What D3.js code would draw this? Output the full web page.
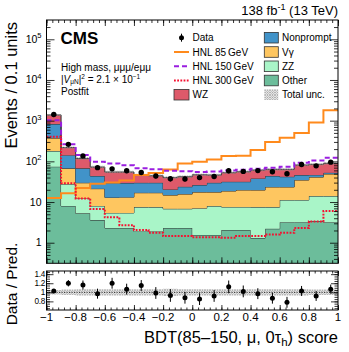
<!DOCTYPE html>
<html>
<head>
<meta charset="utf-8">
<title>BDT score, high mass</title>
<script src="https://cdn.jsdelivr.net/npm/d3@7"></script>
<style>
  body { margin: 0; background: #fff; }
  svg text { font-family: "Liberation Sans", Arial, Helvetica, sans-serif; fill: #000; }
</style>
</head>
<body>
<svg id="chart" width="349" height="352"></svg>
<script>
// bins: lower edges of the 20 BDT score bins (width 0.1)
var binLo = [-1.0, -0.9, -0.8, -0.7, -0.6, -0.5, -0.4, -0.3, -0.2, -0.1, 0.0, 0.1, 0.2, 0.3, 0.4, 0.5, 0.6, 0.7, 0.8, 0.9];
var binWidth = 0.1;

// stacked backgrounds (events per bin)
var other     = [73.8, 8.0, 5.3, 3.6, 2.3, 2.3, 1.9, 1.9, 2.3, 2.3, 1.55, 1.55, 2.05, 2.05, 1.3, 2.2, 3.2, 3.2, 3.4, 3.2];
var zz        = [105, 19.7, 7.0, 4.4, 3.1, 3.1, 5.6, 5.6, 4.5, 4.5, 5.5, 6.4, 5.5, 5.5, 6.2, 5.3, 8.0, 8.0, 10.6, 10.8];
var vgamma    = [194, 39.5, 17.4, 13.3, 7.6, 7.8, 9.4, 9.4, 8.0, 8.9, 10.5, 9.6, 11.1, 12.2, 12.2, 15.9, 12.2, 23.5, 27, 34.8];
var nonprompt = [451, 75, 37.5, 22.3, 16.7, 16.1, 12.8, 12.8, 5.6, 8.0, 8.6, 12.1, 12.9, 11.8, 18.4, 20.2, 18.5, 11.3, 5.5, 3.7];
var wz        = [556, 76, 50, 28.8, 24.9, 25.3, 16.4, 14.6, 19.5, 18.2, 20.7, 16.4, 21, 24, 22.9, 20, 21.7, 35, 37.9, 36.8];
var totUnc    = [0.05, 0.06, 0.07, 0.07, 0.07, 0.07, 0.07, 0.07, 0.08, 0.07, 0.07, 0.07, 0.07, 0.07, 0.07, 0.07, 0.07, 0.07, 0.06, 0.06];

// signals
var hnl85  = [12.5, 16.5, 22, 28, 30, 34, 46, 52, 63, 89, 98, 111, 135, 138, 190, 300, 380, 500, 900, 1800];
var hnl150 = [1025, 262, 143, 98, 89, 80, 68, 64, 59, 57, 55, 56, 60, 62, 66, 70, 74, 92, 105, 122];
var hnl300 = [400, 28.8, 12.3, 6.7, 4.2, 2.7, 2.05, 1.76, 1.46, 1.46, 1.36, 1.36, 1.33, 1.46, 1.46, 1.6, 1.75, 2.3, 3.3, 6.0];

// observed
var data     = [1420, 262, 136, 70, 65.5, 58.5, 53, 43.6, 37.2, 36.9, 39.9, 42.4, 58.8, 56.6, 59.2, 55.3, 49.6, 83.4, 77.6, 95.5];
var ratio    = [1.03, 1.2, 1.16, 0.97, 1.2, 1.07, 1.15, 0.985, 0.93, 0.88, 0.85, 0.92, 1.12, 1.02, 0.97, 0.87, 0.78, 1.03, 0.92, 1.07];
var ratioErr = [0.03, 0.07, 0.10, 0.11, 0.12, 0.12, 0.12, 0.13, 0.14, 0.13, 0.13, 0.13, 0.14, 0.13, 0.12, 0.12, 0.12, 0.11, 0.11, 0.10];

// axis ticks
var xTickVals = [-1, -0.8, -0.6, -0.4, -0.2, 0, 0.2, 0.4, 0.6, 0.8, 1];
var yTickVals = [1, 10, 100, 1000, 10000, 100000];
var rTickVals = [0.8, 1, 1.2, 1.4];

var keys = ["other", "zz", "vgamma", "nonprompt", "wz"];
var colors = {other: "#6cbd9b", zz: "#a9f5c8", vgamma: "#fec660", nonprompt: "#4193c9", wz: "#de5a6a"};

var frame = {left: 46.5, right: 338, top: 20, mainBottom: 263.3, ratioTop: 271, ratioBottom: 310};
var yMin = 0.312, yMax = 2.98e5;

var svg = d3.select("#chart");

var x = d3.scaleLinear().domain([-1, 1]).range([frame.left, frame.right]);
var y = d3.scaleLog().domain([yMin, yMax]).range([frame.mainBottom, frame.top]);
var yr = d3.scaleLinear().domain([0.61, 1.47]).range([frame.ratioBottom, frame.ratioTop]);

var defs = svg.append("defs");
var hatch = defs.append("pattern").attr("id", "hatch").attr("patternUnits", "userSpaceOnUse")
    .attr("width", 2.5).attr("height", 2.5);
hatch.append("path").attr("d", "M0,0L2.5,2.5M2.5,0L0,2.5").attr("stroke", "#8a8a8a").attr("stroke-width", 0.6);

defs.append("clipPath").attr("id", "clipMain").append("rect")
    .attr("x", frame.left).attr("y", frame.top)
    .attr("width", frame.right - frame.left).attr("height", frame.mainBottom - frame.top);
defs.append("clipPath").attr("id", "clipRatio").append("rect")
    .attr("x", frame.left).attr("y", frame.ratioTop)
    .attr("width", frame.right - frame.left).attr("height", frame.ratioBottom - frame.ratioTop);

function steps(vals) {
  var pts = binLo.map(function(b, i) { return {x: b, v: vals[i]}; });
  pts.push({x: binLo[binLo.length - 1] + binWidth, v: vals[vals.length - 1]});
  return pts;
}

// ---- main panel ----
var gMain = svg.append("g").attr("clip-path", "url(#clipMain)");

var rows = binLo.map(function(b, i) {
  return {other: other[i], zz: zz[i], vgamma: vgamma[i], nonprompt: nonprompt[i], wz: wz[i]};
});
var layers = d3.stack().keys(keys)(rows);

var area = d3.area().curve(d3.curveStepAfter)
    .x(function(d) { return x(d.x); })
    .y0(function(d) { return y(Math.max(d.y0, yMin)); })
    .y1(function(d) { return y(d.y1); });
var topLine = d3.line().curve(d3.curveStepAfter)
    .x(function(d) { return x(d.x); })
    .y(function(d) { return y(d.y1); });

layers.forEach(function(layer) {
  var pts = layer.map(function(d, i) { return {x: binLo[i], y0: d[0], y1: d[1]}; });
  var last = pts[pts.length - 1];
  pts.push({x: last.x + binWidth, y0: last.y0, y1: last.y1});
  gMain.append("path").datum(pts).attr("fill", colors[layer.key]).attr("d", area);
  gMain.append("path").datum(pts).attr("fill", "none").attr("stroke", "#333")
      .attr("stroke-width", 1).attr("d", topLine);
});

var total = layers[layers.length - 1].map(function(d) { return d[1]; });
var uncPts = binLo.map(function(b, i) {
  return {x: b, y0: total[i] * (1 - totUnc[i]), y1: total[i] * (1 + totUnc[i])};
});
uncPts.push({x: 1, y0: uncPts[19].y0, y1: uncPts[19].y1});
gMain.append("path").datum(uncPts).attr("fill", "url(#hatch)").attr("d", area);

var sigLine = d3.line().curve(d3.curveStepAfter)
    .x(function(d) { return x(d.x); })
    .y(function(d) { return y(d.v); });

var signals = [
  {name: "HNL 85\u2009GeV", vals: hnl85, color: "#ff8a1c", dash: null},
  {name: "HNL 150\u2009GeV", vals: hnl150, color: "#9a1ee0", dash: "5,3"},
  {name: "HNL 300\u2009GeV", vals: hnl300, color: "#f51030", dash: "1.8,1.4"}
];
signals.forEach(function(s) {
  gMain.append("path").datum(steps(s.vals)).attr("fill", "none")
      .attr("stroke", s.color).attr("stroke-width", 2)
      .attr("stroke-dasharray", s.dash).attr("d", sigLine);
});

var pts = gMain.selectAll(".dpt").data(data).enter().append("g");
pts.append("line")
    .attr("x1", function(d, i) { return x(binLo[i] + binWidth / 2); })
    .attr("x2", function(d, i) { return x(binLo[i] + binWidth / 2); })
    .attr("y1", function(d, i) { return y(d * (1 - ratioErr[i])); })
    .attr("y2", function(d, i) { return y(d * (1 + ratioErr[i])); })
    .attr("stroke", "#000").attr("stroke-width", 1);
pts.append("circle")
    .attr("cx", function(d, i) { return x(binLo[i] + binWidth / 2); })
    .attr("cy", function(d) { return y(d); })
    .attr("r", 2.7).attr("fill", "#000");

// ---- ratio panel ----
var gRatio = svg.append("g").attr("clip-path", "url(#clipRatio)");
var rArea = d3.area().curve(d3.curveStepAfter)
    .x(function(d) { return x(d.x); })
    .y0(function(d) { return yr(1 - d.u); })
    .y1(function(d) { return yr(1 + d.u); });
var rBand = binLo.map(function(b, i) { return {x: b, u: totUnc[i]}; });
rBand.push({x: 1, u: totUnc[19]});
gRatio.append("path").datum(rBand).attr("fill", "url(#hatch)").attr("d", rArea);
gRatio.append("line").attr("x1", x(-1)).attr("x2", x(1)).attr("y1", yr(1)).attr("y2", yr(1))
    .attr("stroke", "#000").attr("stroke-width", 0.8).attr("stroke-dasharray", "1,1.5");

var rp = gRatio.selectAll(".rpt").data(ratio).enter().append("g");
rp.append("line")
    .attr("x1", function(d, i) { return x(binLo[i] + binWidth / 2); })
    .attr("x2", function(d, i) { return x(binLo[i] + binWidth / 2); })
    .attr("y1", function(d, i) { return yr(d - ratioErr[i]); })
    .attr("y2", function(d, i) { return yr(d + ratioErr[i]); })
    .attr("stroke", "#000").attr("stroke-width", 1);
rp.append("circle")
    .attr("cx", function(d, i) { return x(binLo[i] + binWidth / 2); })
    .attr("cy", function(d) { return yr(d); })
    .attr("r", 2.5).attr("fill", "#000");

// ---- frames and ticks ----
function ticks(axis, tx, ty) {
  var g = svg.append("g").attr("transform", "translate(" + tx + "," + ty + ")").call(axis);
  g.select(".domain").remove();
  g.selectAll("line").attr("stroke", "#000").attr("stroke-width", 0.8);
  g.selectAll("text").remove();
}
var xMinor = d3.range(-1, 1.0001, 0.04);
var yMinor = y.ticks().filter(function(v) { return yTickVals.indexOf(v) < 0; });
var rMinor = d3.range(0.65, 1.46, 0.05);

[[frame.top, frame.mainBottom, 6, 3], [frame.ratioTop, frame.ratioBottom, 5, 2.5]].forEach(function(p) {
  ticks(d3.axisBottom(x).tickValues(xTickVals).tickSize(-p[2]).tickFormat(""), 0, p[1]);
  ticks(d3.axisBottom(x).tickValues(xMinor).tickSize(-p[3]).tickFormat(""), 0, p[1]);
  ticks(d3.axisTop(x).tickValues(xTickVals).tickSize(-p[2]).tickFormat(""), 0, p[0]);
  ticks(d3.axisTop(x).tickValues(xMinor).tickSize(-p[3]).tickFormat(""), 0, p[0]);
});
ticks(d3.axisLeft(y).tickValues(yTickVals).tickSize(-8).tickFormat(""), frame.left, 0);
ticks(d3.axisLeft(y).tickValues(yMinor).tickSize(-4).tickFormat(""), frame.left, 0);
ticks(d3.axisRight(y).tickValues(yTickVals).tickSize(-8).tickFormat(""), frame.right, 0);
ticks(d3.axisRight(y).tickValues(yMinor).tickSize(-4).tickFormat(""), frame.right, 0);
ticks(d3.axisLeft(yr).tickValues(rTickVals).tickSize(-7).tickFormat(""), frame.left, 0);
ticks(d3.axisLeft(yr).tickValues(rMinor).tickSize(-3.5).tickFormat(""), frame.left, 0);
ticks(d3.axisRight(yr).tickValues(rTickVals).tickSize(-7).tickFormat(""), frame.right, 0);
ticks(d3.axisRight(yr).tickValues(rMinor).tickSize(-3.5).tickFormat(""), frame.right, 0);

svg.append("rect").attr("x", frame.left).attr("y", frame.top)
    .attr("width", frame.right - frame.left).attr("height", frame.mainBottom - frame.top)
    .attr("fill", "none").attr("stroke", "#000").attr("stroke-width", 1);
svg.append("rect").attr("x", frame.left).attr("y", frame.ratioTop)
    .attr("width", frame.right - frame.left).attr("height", frame.ratioBottom - frame.ratioTop)
    .attr("fill", "none").attr("stroke", "#000").attr("stroke-width", 1);

// ---- tick labels ----
var fmt = d3.format("~g");
svg.selectAll(".xl").data(xTickVals).enter().append("text")
    .attr("x", function(d) { return x(d); }).attr("y", 321)
    .attr("text-anchor", "middle").attr("font-size", 11.5).text(fmt);

yTickVals.forEach(function(v) {
  var t = svg.append("text").attr("x", 41.5).attr("y", y(v) + 3.5)
      .attr("text-anchor", "end").attr("font-size", 10.5);
  var e = Math.round(Math.log10(v));
  if (e >= 2) {
    t.append("tspan").text("10");
    t.append("tspan").attr("dy", -4.5).attr("font-size", 7.5).text(e);
  } else {
    t.text(fmt(v));
  }
});
svg.selectAll(".rl").data(rTickVals).enter().append("text")
    .attr("x", 45).attr("y", function(d) { return yr(d) + 2.9; })
    .attr("text-anchor", "end").attr("font-size", 8.2).attr("letter-spacing", -0.3).text(fmt);

// ---- titles ----
svg.append("text").attr("transform", "translate(17,22) rotate(-90)")
    .attr("text-anchor", "end").attr("font-size", 16.5).text("Events / 0.1 units");
svg.append("text").attr("transform", "translate(17,284) rotate(-90)")
    .attr("text-anchor", "middle").attr("font-size", 15.5).text("Data / Pred.");

var xt = svg.append("text").attr("x", 338).attr("y", 343).attr("text-anchor", "end").attr("font-size", 16.5);
xt.append("tspan").text("BDT(85\u2013150, \u03bc, 0\u03c4");
xt.append("tspan").attr("dy", 3).attr("font-size", 11.5).text("h");
xt.append("tspan").attr("dy", -3).text(") score");

var lumi = svg.append("text").attr("x", 338).attr("y", 15).attr("text-anchor", "end").attr("font-size", 13);
lumi.append("tspan").text("138 fb");
lumi.append("tspan").attr("dy", -5).attr("font-size", 9).text("-1");
lumi.append("tspan").attr("dy", 5).text(" (13 TeV)");

svg.append("text").attr("x", 60.5).attr("y", 44).attr("font-size", 17).attr("font-weight", "bold").text("CMS");
svg.append("text").attr("x", 61).attr("y", 70.5).attr("font-size", 10).text("High mass, \u03bc\u03bc\u03bc/e\u03bc\u03bc");
var vt = svg.append("text").attr("x", 61).attr("y", 82.5).attr("font-size", 10);
vt.append("tspan").text("|");
vt.append("tspan").attr("font-style", "italic").text("V");
vt.append("tspan").attr("dy", 1.8).attr("font-size", 6.5).text("\u03bcN");
vt.append("tspan").attr("dy", -1.8).text("|");
vt.append("tspan").attr("dy", -3.5).attr("font-size", 6.5).text("2");
vt.append("tspan").attr("dy", 3.5).text(" = 2.1 \u00d7 10");
vt.append("tspan").attr("dy", -3.5).attr("font-size", 6.5).text("\u22121");
svg.append("text").attr("x", 61).attr("y", 94.5).attr("font-size", 10).text("Postfit");

// ---- legend ----
var rowY = [37.7, 52, 66.3, 80.5, 94.7];
var leftItems = [
  {type: "data", name: "Data"},
  {type: "line", name: signals[0].name, s: signals[0]},
  {type: "line", name: signals[1].name, s: signals[1]},
  {type: "line", name: signals[2].name, s: signals[2]},
  {type: "box", name: "WZ", color: colors.wz}
];
var rightItems = [
  {type: "box", name: "Nonprompt", color: colors.nonprompt},
  {type: "box", name: "V\u03b3", color: colors.vgamma},
  {type: "box", name: "ZZ", color: colors.zz},
  {type: "box", name: "Other", color: colors.other},
  {type: "unc", name: "Total unc."}
];
function legendCol(items, x0, x1, tx) {
  items.forEach(function(it, i) {
    var cy = rowY[i];
    if (it.type === "data") {
      svg.append("line").attr("x1", (x0 + x1) / 2).attr("x2", (x0 + x1) / 2)
          .attr("y1", cy - 4).attr("y2", cy + 4).attr("stroke", "#000");
      svg.append("circle").attr("cx", (x0 + x1) / 2).attr("cy", cy).attr("r", 2.5).attr("fill", "#000");
    } else if (it.type === "line") {
      svg.append("line").attr("x1", x0).attr("x2", x1).attr("y1", cy).attr("y2", cy)
          .attr("stroke", it.s.color).attr("stroke-width", 2).attr("stroke-dasharray", it.s.dash);
    } else if (it.type === "box") {
      svg.append("rect").attr("x", x0).attr("y", cy - 5.3).attr("width", x1 - x0).attr("height", 10.6)
          .attr("fill", it.color).attr("stroke", "#333").attr("stroke-width", 0.8);
    } else {
      svg.append("rect").attr("x", x0).attr("y", cy - 5.3).attr("width", x1 - x0).attr("height", 10.6)
          .attr("fill", "url(#hatch)");
    }
    svg.append("text").attr("x", tx).attr("y", cy + 3.6).attr("font-size", 10).text(it.name);
  });
}
legendCol(leftItems, 174, 189, 192.5);
legendCol(rightItems, 264.3, 278.3, 282);
</script>
</body>
</html>
